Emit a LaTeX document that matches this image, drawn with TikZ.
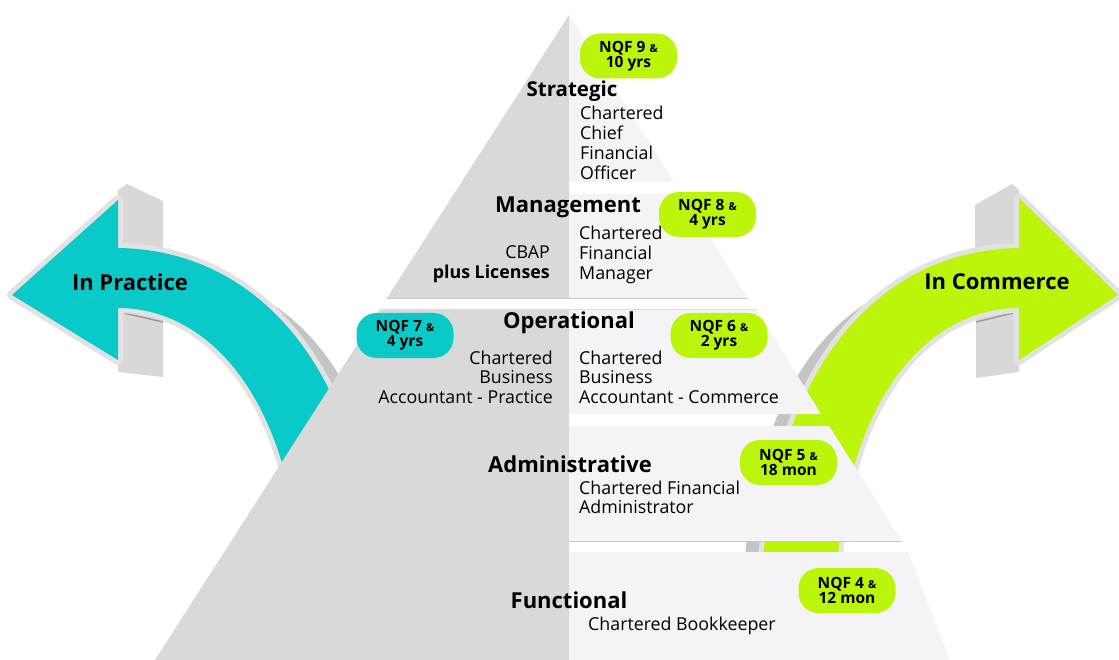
\documentclass[tikz,border=0pt]{standalone}
\usepackage{fontspec}
\setmainfont{Open Sans}
\definecolor{tealc}{RGB}{10,201,201}
\definecolor{limec}{RGB}{187,245,10}
\definecolor{pyrgray}{RGB}{217,217,217}
\definecolor{pyrlight}{RGB}{244,244,246}
\definecolor{bordg}{RGB}{226,226,226}
\definecolor{extg}{RGB}{216,216,216}
\definecolor{shadeg}{RGB}{196,196,196}
\definecolor{lineg}{RGB}{200,200,200}
\begin{document}
\begin{tikzpicture}[x=1pt,y=-1pt,
  arrowbody/.style={preaction={draw=bordg, line width=10pt, line join=round}},
  badge/.style={rounded corners=20pt, minimum width=97pt, minimum height=45pt, inner sep=0pt,
    align=center, font=\bfseries\fontsize{15.5}{15}\selectfont},
  head/.style={font=\bfseries\fontsize{22}{26}\selectfont, inner sep=0pt},
  body/.style={font=\fontsize{17.8}{19.7}\selectfont, inner sep=0pt},
  arrowlabel/.style={font=\bfseries\fontsize{22}{26}\selectfont, inner sep=0pt}
]
\useasboundingbox (0,0) rectangle (1119,660);

% ---------- teal arrow (In Practice) ----------
\fill[shadeg] (249.9,291.9) .. controls (332,330) and (384,430) .. (393,570) -- (375,570)
  .. controls (365.25,440) and (319.6,343.8) .. (249.9,291.9) -- cycle;
\fill[extg] (118,252) -- (118,190) -- (127,184) -- (163,201) -- (163,252) -- cycle;
\fill[extg] (118,306) -- (163,316) -- (163,377) -- (118,372) -- cycle;
\draw[gray!80, line width=1.5pt] (124,313) -- (163,322);
\path[arrowbody, fill=tealc] (118,248) -- (118,200) -- (12,295) -- (118,360) -- (118,308)
  .. controls (210,308) and (290,400) .. (300,570) -- (375,570)
  .. controls (360,370) and (260,250) .. (118,248) -- cycle;

% ---------- green arrow (In Commerce) ----------
\fill[shadeg] (887.1,291.9) .. controls (805,330) and (753,430) .. (744,570) -- (762,570)
  .. controls (771.75,440) and (817.4,343.8) .. (887.1,291.9) -- cycle;
\fill[extg] (1019,252) -- (1019,190) -- (1012,184) -- (975,205) -- (975,252) -- cycle;
\fill[extg] (1019,306) -- (976,318) -- (976,378) -- (1019,372) -- cycle;
\draw[gray!80, line width=1.5pt] (1013,313) -- (976,322);
\path[arrowbody, fill=limec] (1019,248) -- (1019,198) -- (1118,295) -- (1019,360) -- (1019,308)
  .. controls (927,308) and (847,400) .. (837,570) -- (762,570)
  .. controls (777,370) and (877,250) .. (1019,248) -- cycle;

% ---------- pyramid ----------
\fill[pyrgray] (569,15) -- (387,298) -- (569,298) -- cycle;
\fill[pyrgray] (380,309) -- (155,660) -- (569,660) -- (569,309) -- cycle;
\fill[pyrlight] (569,15) -- (674,182) -- (569,182) -- cycle;
\fill[pyrlight] (569,194) -- (682,194) -- (748,298) -- (569,298) -- cycle;
\fill[pyrlight] (569,310) -- (757,310) -- (821,414) -- (569,414) -- cycle;
\fill[pyrlight] (569,426) -- (829,426) -- (902,541) -- (569,541) -- cycle;
\fill[pyrlight] (569,552) -- (908,552) -- (950,660) -- (569,660) -- cycle;
\draw[lineg, line width=0.8pt] (387,298.6) -- (748,298.6);
\draw[lineg!60, line width=0.8pt] (380,309.4) -- (757,309.4);
\draw[lineg, line width=0.8pt] (569,541.6) -- (902,541.6);

% ---------- arrow labels ----------
\node[arrowlabel] (lprac) at (130,282) {In Practice};
\node[arrowlabel] (lcomm) at (997,282) {In Commerce};

% ---------- level headings ----------
\node[head, font=\bfseries\fontsize{20.5}{24}\selectfont] (hstr) at (572,91) {Strategic};
\node[head] (hman) at (568,207) {Management};
\node[head] (hops) at (569,323) {Operational};
\node[head] (hadm) at (570,464) {Administrative};
\node[head] (hfun) at (569,600) {Functional};

% ---------- descriptions (base = last line baseline) ----------
\node[body, anchor=base west, align=left] (tstr) at (580,179.1) {Chartered\\Chief\\Financial\\Officer};
\node[body, anchor=base west, align=left] (tman) at (579,279.4) {Chartered\\Financial\\Manager};
\node[body, anchor=base east, align=right] (tcbap) at (550,278.7) {CBAP\\\textbf{plus Licenses}};
\node[body, anchor=base east, align=right] (topl) at (553,403.4) {Chartered\\Business\\Accountant - Practice};
\node[body, anchor=base west, align=left] (topr) at (579,403.4) {Chartered\\Business\\Accountant - Commerce};
\node[body, anchor=base west, align=left] (tadm) at (579,513.7) {Chartered Financial\\Administrator};
\node[body, anchor=base west, align=left] (tfun) at (588,630) {Chartered Bookkeeper};

% ---------- badges ----------
\node[badge, fill=limec] (b9) at (628.5,56) {NQF 9 {\fontsize{11}{11}\selectfont\&}\\10 yrs};
\node[badge, fill=limec] (b8) at (707.5,214.5) {NQF 8 {\fontsize{11}{11}\selectfont\&}\\4 yrs};
\node[badge, fill=tealc] (b7) at (405,335.5) {NQF 7 {\fontsize{11}{11}\selectfont\&}\\4 yrs};
\node[badge, fill=limec] (b6) at (719,335.5) {NQF 6 {\fontsize{11}{11}\selectfont\&}\\2 yrs};
\node[badge, fill=limec] (b5) at (788.5,462.5) {NQF 5 {\fontsize{11}{11}\selectfont\&}\\18 mon};
\node[badge, fill=limec] (b4) at (847,590.5) {NQF 4 {\fontsize{11}{11}\selectfont\&}\\12 mon};
\end{tikzpicture}
\end{document}
